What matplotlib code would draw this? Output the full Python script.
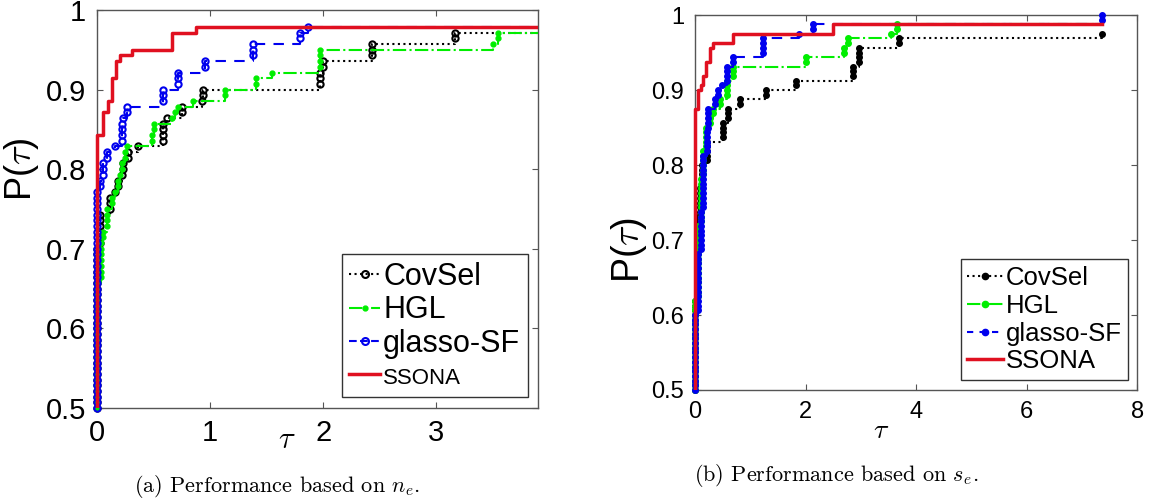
import numpy as np
import matplotlib
matplotlib.use("Agg")
import matplotlib.pyplot as plt
from matplotlib.lines import Line2D
from matplotlib.patches import Rectangle

plt.rcParams['font.family'] = ['Liberation Sans', 'DejaVu Sans']
plt.rcParams['mathtext.fontset'] = 'cm'

# ---- (a) performance based on n_e : problems solved within tau (of N_ne) ----
N_ne = 140
tau_end_ne = 4.0
covsel_ne_tau = [0, 0.03, 0.115, 0.159, 0.19, 0.218, 0.233, 0.277, 0.366, 0.587, 0.617, 0.75, 0.926, 0.94, 1.97, 2.0, 2.43, 3.17]
covsel_ne_solved = [98, 104, 107, 108, 110, 111, 113, 115, 116, 120, 121, 123, 124, 126, 129, 131, 134, 136]
hgl_ne_tau = [0, 0.04, 0.056, 0.085, 0.13, 0.16, 0.19, 0.20, 0.22, 0.25, 0.27, 0.484, 0.50, 0.66, 0.69, 0.72, 0.85, 1.13, 1.41, 1.55, 1.97, 3.50, 3.55]
hgl_ne_solved = [92, 99, 101, 105, 107, 108, 110, 111, 113, 115, 116, 118, 120, 121, 122, 123, 124, 126, 128, 129, 133, 134, 136]
glasso_ne_tau = [0, 0.027, 0.056, 0.085, 0.159, 0.218, 0.233, 0.27, 0.587, 0.72, 0.955, 1.38, 1.796, 1.87]
glasso_ne_solved = [108, 110, 113, 115, 116, 120, 121, 123, 126, 129, 131, 134, 136, 137]
ssona_ne_tau = [0, 0.056, 0.10, 0.13, 0.17, 0.20, 0.31, 0.66, 0.88]
ssona_ne_solved = [118, 122, 124, 128, 131, 132, 133, 136, 137]

# ---- (b) performance based on s_e ----
N_se = 160
tau_end_se = 7.37
covsel_se_tau = [0, 0.03, 0.06, 0.09, 0.12, 0.21, 0.51, 0.6, 0.81, 1.29, 1.83, 2.85, 2.97, 3.69, 7.37]
covsel_se_solved = [99, 109, 117, 123, 128, 133, 137, 140, 142, 144, 146, 149, 153, 155, 156]
hgl_se_tau = [0, 0.05, 0.1, 0.15, 0.2, 0.27, 0.33, 0.45, 0.57, 0.69, 2.01, 2.70, 2.76, 3.54, 3.66]
hgl_se_solved = [99, 115, 125, 131, 136, 138, 140, 142, 146, 149, 151, 153, 155, 156, 158]
glasso_se_tau = [0, 0.05, 0.1, 0.15, 0.21, 0.24, 0.36, 0.42, 0.48, 0.57, 0.69, 1.23, 1.89, 2.13, 7.37]
glasso_se_solved = [96, 109, 118, 130, 135, 140, 142, 144, 145, 149, 151, 155, 156, 158, 160]
ssona_se_tau = [0, 0.05, 0.1, 0.15, 0.2, 0.27, 0.33, 0.69, 2.49]
ssona_se_solved = [140, 144, 145, 147, 150, 153, 154, 156, 158]

labels = ['CovSel', 'HGL', 'glasso-SF', 'SSONA']


def profile(ax, tau, solved, N, tau_end, marks, **kw):
    # staircase: starts from P=0 at the first tau, runs to the end of the tau range
    xs = [tau[0]] + list(tau) + [tau_end]
    ys = [0] + [s / N for s in solved] + [solved[-1] / N]
    line, = ax.step(xs, ys, where='post', **kw)
    line.set_clip_path(Rectangle((-0.05, 0), 1.05, 1.05, transform=ax.transAxes))
    if marks is not None:
        # one marker per problem, stacked on the vertical parts
        mx, my = [], []
        prev = 0
        for t, s in zip(tau, solved):
            for k in range(prev + 1, s + 1):
                if k / N >= 0.5:
                    mx.append(t)
                    my.append(k / N)
            prev = s
        ax.plot(mx, my, linestyle='none', color=kw['color'], clip_on=False,
                zorder=line.get_zorder(), **marks)
    return line


def style_axes(ax, fs):
    ax.set_ylim(0.5, 1.0)
    ax.set_yticks([0.5, 0.6, 0.7, 0.8, 0.9, 1.0])
    ax.set_yticklabels(['0.5', '0.6', '0.7', '0.8', '0.9', '1'])
    ax.tick_params(direction='in', top=True, right=True, labelsize=fs,
                   length=4, color='#555555', pad=8)
    for sp in ax.spines.values():
        sp.set_color('#555555')
        sp.set_linewidth(1.0)
        sp.set_zorder(0.5)


fig = plt.figure(figsize=(11.53, 5.04), dpi=100)

# ---------------- panel (a) ----------------
ax1 = fig.add_axes([0.0841, 0.1905, 0.3825, 0.7897])
profile(ax1, covsel_ne_tau, covsel_ne_solved, N_ne, tau_end_ne,
        dict(marker='o', ms=4.5, mfc='none', mew=1.5),
        color='k', ls=':', lw=1.5)
profile(ax1, hgl_ne_tau, hgl_ne_solved, N_ne, tau_end_ne,
        dict(marker='.', ms=7),
        color='#00ee00', ls='-.', lw=1.5)
profile(ax1, glasso_ne_tau, glasso_ne_solved, N_ne, tau_end_ne,
        dict(marker='o', ms=4.5, mfc='none', mew=1.5),
        color='#0000ee', ls='--', lw=1.5, dashes=(5, 4))
profile(ax1, ssona_ne_tau, ssona_ne_solved, N_ne, tau_end_ne, None,
        color='#e01020', ls='-', lw=2.5)
ax1.set_xlim(0, 3.9)
ax1.set_xticks([0, 1, 2, 3])
style_axes(ax1, 21)
ax1.set_ylabel(r'P($\tau$)', fontsize=26)
ax1.yaxis.set_label_coords(-0.128, 0.6)
ax1.text(0.43, -0.08, r'$\tau$', transform=ax1.transAxes, fontsize=22,
         ha='center', va='center')
lh = [Line2D([], [], color='k', ls=':', lw=1.5, marker='o', ms=5, mfc='none', mew=1.5),
      Line2D([], [], color='#00ee00', ls='-.', lw=1.5, marker='.', ms=7),
      Line2D([], [], color='#0000ee', ls='--', lw=1.5, marker='o', ms=5, mfc='none', mew=1.5),
      Line2D([], [], color='#e01020', ls='-', lw=2.5)]
leg1 = ax1.legend(lh, labels, loc='lower right', bbox_to_anchor=(0.977, 0.028),
                  borderaxespad=0, fontsize=22, handlelength=1.0, handletextpad=0.1,
                  labelspacing=0.12, borderpad=0.25, fancybox=False,
                  edgecolor='#333333', framealpha=1)
leg1.get_texts()[3].set_fontsize(16)

# ---------------- panel (b) ----------------
ax2 = fig.add_axes([0.6028, 0.2262, 0.3834, 0.744])
profile(ax2, covsel_se_tau, covsel_se_solved, N_se, tau_end_se,
        dict(marker='.', ms=8),
        color='k', ls=':', lw=1.5)
profile(ax2, hgl_se_tau, hgl_se_solved, N_se, tau_end_se,
        dict(marker='.', ms=8),
        color='#00ee00', ls='-.', lw=1.5)
profile(ax2, glasso_se_tau, glasso_se_solved, N_se, tau_end_se,
        dict(marker='.', ms=8),
        color='#0000ee', ls='--', lw=1.5, dashes=(5, 4))
profile(ax2, ssona_se_tau, ssona_se_solved, N_se, tau_end_se, None,
        color='#e01020', ls='-', lw=2.5)
ax2.set_xlim(0, 8)
ax2.set_xticks([0, 2, 4, 6, 8])
style_axes(ax2, 17)
ax2.set_ylabel(r'P($\tau$)', fontsize=27)
ax2.yaxis.set_label_coords(-0.105, 0.373)
ax2.text(0.42, -0.11, r'$\tau$', transform=ax2.transAxes, fontsize=20,
         ha='center', va='center')
rh = [Line2D([], [], color='k', ls=':', lw=1.5, marker='.', ms=9),
      Line2D([], [], color='#00ee00', ls='-.', lw=1.5, marker='.', ms=9),
      Line2D([], [], color='#0000ee', ls='--', lw=1.5, marker='.', ms=9, dashes=(3, 3)),
      Line2D([], [], color='#e01020', ls='-', lw=2.5)]
ax2.legend(rh, labels, loc='lower right', bbox_to_anchor=(0.98, 0.027),
           borderaxespad=0, fontsize=18.5, handlelength=1.4, handletextpad=0.1,
           labelspacing=0.15, borderpad=0.25, fancybox=False,
           edgecolor='#333333', framealpha=1)

# captions
fig.text(0.240, 0.034, r'(a) Performance based on $n_e$.', fontsize=16,
         family='cmr10', ha='center', va='center')
fig.text(0.725, 0.056, r'(b) Performance based on $s_e$.', fontsize=16,
         family='cmr10', ha='center', va='center')

fig.savefig('out.png', dpi=100)
